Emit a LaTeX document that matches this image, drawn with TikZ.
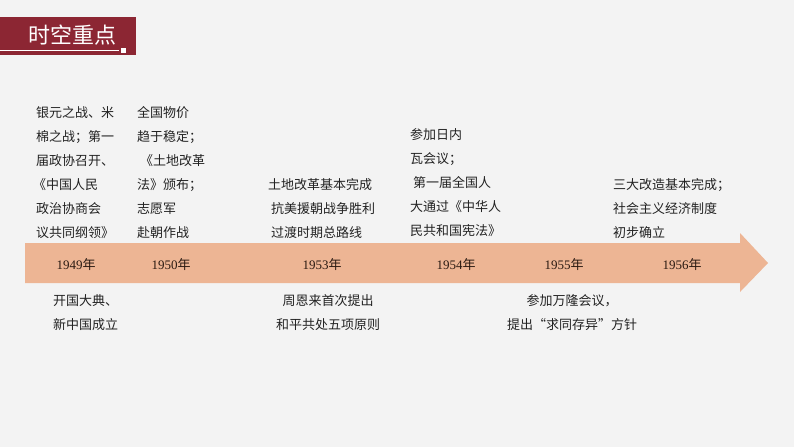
\documentclass[tikz,border=0pt]{standalone}
\usepackage{fontspec}
\setmainfont{Liberation Serif}
\newfontfamily\cjk{Noto Sans CJK SC}
\definecolor{bgc}{HTML}{F3F3F3}
\definecolor{titc}{HTML}{8C2633}
\definecolor{bandc}{HTML}{EDB594}
\definecolor{txtc}{HTML}{222222}
\definecolor{yrc}{HTML}{2A1A12}
\tikzset{
  txt/.style={font=\cjk\fontsize{13}{16}\selectfont, text=txtc, inner sep=0pt, anchor=base west},
  txtc/.style={font=\cjk\fontsize{13}{16}\selectfont, text=txtc, inner sep=0pt, anchor=base},
  yr/.style={font=\fontsize{13}{16}\selectfont, text=yrc, inner sep=0pt, anchor=base}
}
\newcommand{\yrlab}[1]{#1{\cjk 年}}
\begin{document}
\begin{tikzpicture}[x=1pt,y=-1pt]
\fill[bgc] (0,0) rectangle (794,447);
\useasboundingbox (0,0) rectangle (794,447);
% title
\fill[titc] (0,17) rectangle (136,55);
\draw[white, line width=0.8pt] (0,50) -- (119,50);
\fill[white] (120.5,48) rectangle (125.5,53);
\node[font=\cjk\fontsize{22}{22}\selectfont, text=white, inner sep=0pt] (title) at (72,35) {时空重点};
% band arrow
\fill[bandc] (25,243) -- (740,243) -- (740,233) -- (768,263) -- (740,292) -- (740,283) -- (25,283) -- cycle;
% years
\node[yr] (y1) at (76,269) {\yrlab{1949}};
\node[yr] (y2) at (171,269) {\yrlab{1950}};
\node[yr] (y3) at (322,269) {\yrlab{1953}};
\node[yr] (y4) at (456,269) {\yrlab{1954}};
\node[yr] (y5) at (564,269) {\yrlab{1955}};
\node[yr] (y6) at (682,269) {\yrlab{1956}};
% column 1949
\node[txt] (a1) at (36,117) {银元之战、米};
\node[txt] (a2) at (36,141) {棉之战；第一};
\node[txt] (a3) at (36,165) {届政协召开、};
\node[txt] (a4) at (33,189) {《中国人民};
\node[txt] (a5) at (36,213) {政治协商会};
\node[txt] (a6) at (36,237) {议共同纲领》};
% column 1950
\node[txt] (b1) at (137,117) {全国物价};
\node[txt] (b2) at (137,141) {趋于稳定；};
\node[txt] (b3) at (140,165) {《土地改革};
\node[txt] (b4) at (137,189) {法》颁布；};
\node[txt] (b5) at (137,213) {志愿军};
\node[txt] (b6) at (137,237) {赴朝作战};
% column 1953
\node[txt] (c1) at (268,189) {土地改革基本完成};
\node[txt] (c2) at (271,213) {抗美援朝战争胜利};
\node[txt] (c3) at (271,237) {过渡时期总路线};
% column 1954
\node[txt] (d1) at (410,139) {参加日内};
\node[txt] (d2) at (410,163) {瓦会议；};
\node[txt] (d3) at (413,187) {第一届全国人};
\node[txt] (d4) at (410,211) {大通过《中华人};
\node[txt] (d5) at (410,235) {民共和国宪法》};
% column 1956
\node[txt] (e1) at (613,189) {三大改造基本完成；};
\node[txt] (e2) at (613,213) {社会主义经济制度};
\node[txt] (e3) at (613,237) {初步确立};
% below
\node[txt] (f1) at (53,305) {开国大典、};
\node[txt] (f2) at (53,329) {新中国成立};
\node[txtc] (g1) at (328,305) {周恩来首次提出};
\node[txtc] (g2) at (328,329) {和平共处五项原则};
\node[txtc] (h1) at (572,305) {参加万隆会议，};
\node[txtc] (h2) at (572,329) {提出“求同存异”方针};
\end{tikzpicture}
\end{document}
